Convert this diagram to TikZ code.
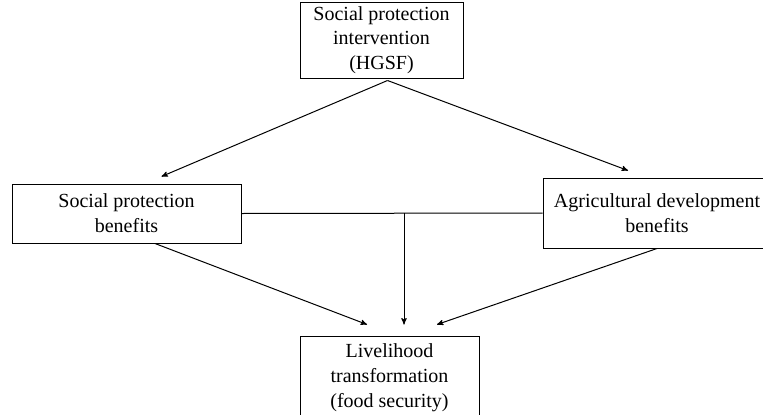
\documentclass[tikz,border=0pt]{standalone}
\usepackage{fontspec}
\setmainfont{Liberation Serif}
\usetikzlibrary{arrows,calc}

\begin{document}
\begin{tikzpicture}[
    x = 0.75pt,
    y = -0.75pt,
    line width = 0.75pt,
    >=stealth',
    box/.style = {
      draw,
      rectangle,
      align = center,
      inner sep = 2pt,
      font = \fontsize{15}{18.6}\selectfont
    }
  ]
  \clip (0,0) rectangle (763,414);

  \draw (381.5,40) node[box,minimum width=122.25pt,minimum height=57pt] (top)
    {Social protection\\intervention\\(HGSF)};
  \draw (126.5,213.5) node[box,minimum width=171.75pt,minimum height=44.25pt] (sp)
    {Social protection\\benefits};
  \draw (657,213) node[box,minimum width=171pt,minimum height=52.5pt] (ad)
    {Agricultural development\\benefits};
  \draw (389.5,378) node[box,minimum width=134.25pt,minimum height=63pt] (lt)
    {Livelihood\\transformation\\(food security)};

  \coordinate (j) at (404,213.3);

  \draw [->] ($(top.south)+(6,2)$) -- ($(sp.north)+(35,-7)$);
  \draw [->] ($(top.south)+(6,2)$) -- ($(ad.north)+(-29,-7)$);

  \draw (sp.east) -- (ad.west);
  \draw [->] (j) -- ($(lt.north)+(14.5,-11)$);

  \draw [->] ($(sp.south)+(28.5,0)$) -- ($(lt.north)+(-22.5,-11)$);
  \draw [->] (ad.south) -- ($(lt.north)+(47.5,-11)$);
\end{tikzpicture}
\end{document}
